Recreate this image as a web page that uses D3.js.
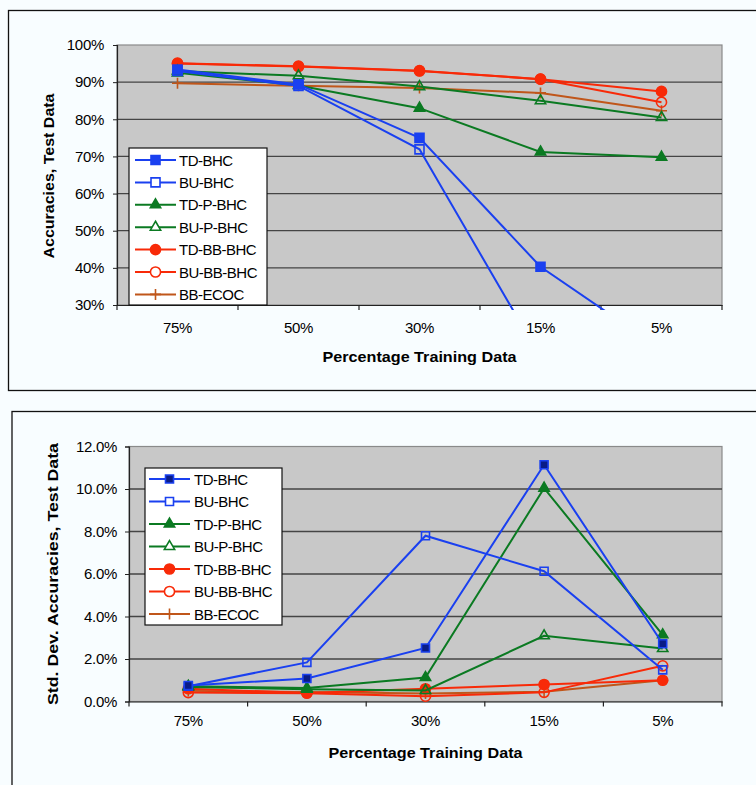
<!DOCTYPE html>
<html>
<head>
<meta charset="utf-8">
<script src="https://cdn.jsdelivr.net/npm/d3@7"></script>
<style>
  html, body { margin: 0; padding: 0; background: #f8fdff; }
  svg { display: block; }
  text { font-family: "Liberation Sans", Arial, sans-serif; fill: #000; }
</style>
</head>
<body>
<svg id="chart" width="756" height="785"></svg>
<script>
// ---------- DATA ----------
const categories = ["75%", "50%", "30%", "15%", "5%"];
const seriesNames = ["TD-BHC", "BU-BHC", "TD-P-BHC", "BU-P-BHC", "TD-BB-BHC", "BU-BB-BHC", "BB-ECOC"];

// Accuracies on test data (%)
const accTD_BHC   = [93.4, 89.4, 75.0, 40.3, 18.0];
const accBU_BHC   = [93.0, 89.0, 71.9, 15.9, 10.0];
const accTD_P_BHC = [92.5, 89.1, 83.0, 71.2, 69.8];
const accBU_P_BHC = [93.0, 91.7, 88.8, 85.0, 80.5];
const accTD_BB_BHC = [95.1, 94.3, 93.1, 90.8, 87.5];
const accBU_BB_BHC = [95.0, 94.2, 93.0, 90.8, 84.6];
const accBB_ECOC  = [89.7, 89.0, 88.4, 87.1, 82.3];

// Std. dev. of accuracies on test data (%)
const sdTD_BHC    = [0.75, 1.08, 2.52, 11.14, 2.72];
const sdBU_BHC    = [0.72, 1.84, 7.80, 6.13, 1.49];
const sdTD_P_BHC  = [0.72, 0.63, 1.13, 10.04, 3.14];
const sdBU_P_BHC  = [0.68, 0.58, 0.52, 3.09, 2.49];
const sdTD_BB_BHC = [0.60, 0.40, 0.60, 0.80, 1.00];
const sdBU_BB_BHC = [0.42, 0.39, 0.25, 0.43, 1.68];
const sdBB_ECOC   = [0.50, 0.45, 0.38, 0.46, 1.00];

const accTicks = [30, 40, 50, 60, 70, 80, 90, 100];
const sdTicks = [0, 2, 4, 6, 8, 10, 12];

const accSeries = [accTD_BHC, accBU_BHC, accTD_P_BHC, accBU_P_BHC, accTD_BB_BHC, accBU_BB_BHC, accBB_ECOC];
const sdSeries = [sdTD_BHC, sdBU_BHC, sdTD_P_BHC, sdBU_P_BHC, sdTD_BB_BHC, sdBU_BB_BHC, sdBB_ECOC];

// ---------- STYLES ----------
const BLUE = "#1a40f0", GREEN = "#0b7a22", RED = "#f82a08", BROWN = "#c0561a";
const styles = [
  { color: BLUE,  shape: "square",   filled: true },
  { color: BLUE,  shape: "square",   filled: false },
  { color: GREEN, shape: "triangle", filled: true },
  { color: GREEN, shape: "triangle", filled: false },
  { color: RED,   shape: "circle",   filled: true },
  { color: RED,   shape: "circle",   filled: false },
  { color: BROWN, shape: "plus",     filled: false }
];

const svg = d3.select("#chart");

function markerPath(shape, sqArea) {
  if (shape === "square") return d3.symbol(d3.symbolSquare, sqArea)();
  if (shape === "triangle") return d3.symbol(d3.symbolTriangle, 46)();
  if (shape === "circle") return d3.symbol(d3.symbolCircle, 80)();
  return "M-5.5,0H5.5M0,-5.5V5.5";
}

function drawMarker(g, st, x, y, opts) {
  const p = g.append("path")
    .attr("d", markerPath(st.shape, opts.sq))
    .attr("transform", `translate(${x},${y})`)
    .attr("stroke", st.color)
    .attr("stroke-width", 1.6);
  if (st.shape === "plus") p.attr("fill", "none");
  else if (st.filled) p.attr("fill", (st.shape === "square" && opts.navy) ? "#0a1c86" : st.color);
  else p.attr("fill", opts.legend ? "#fff" : "none");
}

function drawChart(cfg) {
  // outer frame
  svg.append("rect")
    .attr("x", cfg.frame[0]).attr("y", cfg.frame[1])
    .attr("width", cfg.frame[2]).attr("height", cfg.frame[3])
    .attr("fill", "none").attr("stroke", "#111").attr("stroke-width", 1.3);

  const { x0, x1, y0, y1 } = cfg;
  const x = d3.scaleBand().domain(categories).range([x0, x1]).padding(0);
  const y = d3.scaleLinear().domain(cfg.domain).range([y1, y0]);
  const cx = c => x(c) + x.bandwidth() / 2;

  const g = svg.append("g");
  // plot background
  g.append("rect").attr("x", x0).attr("y", y0).attr("width", x1 - x0).attr("height", y1 - y0)
    .attr("fill", "#c8c8c8").attr("stroke", "#8a8a8a").attr("stroke-width", 1.2);

  // gridlines
  g.selectAll(".grid").data(cfg.ticks.filter(t => t !== cfg.domain[0] && t !== cfg.domain[1]))
    .enter().append("line")
    .attr("x1", x0).attr("x2", x1)
    .attr("y1", d => y(d)).attr("y2", d => y(d))
    .attr("stroke", "#454545").attr("stroke-width", 1.3);

  // y axis
  const yAxis = d3.axisLeft(y).tickValues(cfg.ticks).tickFormat(cfg.fmt).tickSize(4).tickPadding(cfg.tickPad);
  const ya = g.append("g").attr("transform", `translate(${x0},0)`).call(yAxis);
  ya.select(".domain").attr("stroke", "#222").attr("stroke-width", 1.2);
  ya.selectAll(".tick line").attr("stroke", "#222");
  ya.selectAll(".tick text").attr("font-size", 15).attr("font-family", '"Liberation Sans", Arial, sans-serif')
    .attr("letter-spacing", "-0.3px").attr("fill", "#000");

  // x axis: labels at centers, ticks at band boundaries
  const xAxis = d3.axisBottom(x).tickSize(0).tickPadding(cfg.xLabelPad);
  const xa = g.append("g").attr("transform", `translate(0,${y1})`).call(xAxis);
  xa.select(".domain").attr("stroke", "#222").attr("stroke-width", 1.2);
  xa.selectAll(".tick text").attr("font-size", 15).attr("font-family", '"Liberation Sans", Arial, sans-serif')
    .attr("letter-spacing", "-0.3px").attr("fill", "#000");
  const bounds = categories.map(c => x(c)).concat([x1]);
  g.selectAll(".xt").data(bounds).enter().append("line")
    .attr("x1", d => d).attr("x2", d => d).attr("y1", y1).attr("y2", y1 + 5)
    .attr("stroke", "#222").attr("stroke-width", 1.2);

  // titles
  svg.append("text").attr("x", (x0 + x1) / 2).attr("y", cfg.xTitleY)
    .attr("text-anchor", "middle").attr("dominant-baseline", "central")
    .attr("font-size", 15).attr("font-weight", "bold")
    .attr("textLength", 194).attr("lengthAdjust", "spacingAndGlyphs")
    .text("Percentage Training Data");
  svg.append("text").attr("transform", `translate(${cfg.yTitle[0]},${cfg.yTitle[1]}) rotate(-90)`)
    .attr("text-anchor", "middle").attr("dominant-baseline", "central")
    .attr("font-size", 15).attr("font-weight", "bold")
    .attr("textLength", cfg.yTitleLen).attr("lengthAdjust", "spacingAndGlyphs")
    .text(cfg.yTitleText);

  // clip
  const clipId = "clip" + cfg.id;
  svg.append("clipPath").attr("id", clipId).append("rect")
    .attr("x", x0 - 10).attr("y", y0 - 10).attr("width", x1 - x0 + 20).attr("height", y1 - y0 + 15);
  const pg = svg.append("g").attr("clip-path", `url(#${clipId})`);

  const line = d3.line().x((d, i) => cx(categories[i])).y(d => y(d));
  // draw in reverse order so TD-BHC ends on top
  for (let s = cfg.series.length - 1; s >= 0; s--) {
    const vals = cfg.series[s], st = styles[s];
    pg.append("path").datum(vals).attr("d", line)
      .attr("fill", "none").attr("stroke", st.color).attr("stroke-width", 2);
    vals.forEach((v, i) => {
      if (v >= cfg.domain[0] && v <= cfg.domain[1])
        drawMarker(pg, st, cx(categories[i]), y(v), { sq: cfg.sq, navy: cfg.navy });
    });
  }

  // legend
  const L = cfg.legend;
  svg.append("rect").attr("x", L.x).attr("y", L.y).attr("width", L.w).attr("height", L.h)
    .attr("fill", "#fff").attr("stroke", "#111").attr("stroke-width", 1.2);
  seriesNames.forEach((name, i) => {
    const yy = L.firstY + i * L.step;
    const st = styles[i];
    svg.append("line").attr("x1", L.lineX0).attr("x2", L.lineX1).attr("y1", yy).attr("y2", yy)
      .attr("stroke", st.color).attr("stroke-width", 2);
    drawMarker(svg, st, (L.lineX0 + L.lineX1) / 2, yy, { sq: cfg.sq, navy: cfg.navy, legend: true });
    svg.append("text").attr("x", L.textX).attr("y", yy).attr("dominant-baseline", "central")
      .attr("font-size", 15).attr("letter-spacing", "-0.5px").text(name);
  });
}

drawChart({
  id: "top",
  frame: [8.5, 10.5, 800, 380],
  x0: 117, x1: 722, y0: 45, y1: 305,
  domain: [30, 100], ticks: accTicks, fmt: d => d + "%", tickPad: 9,
  xLabelPad: 17, xTitleY: 356,
  yTitle: [48, 176], yTitleLen: 165, yTitleText: "Accuracies, Test Data",
  series: accSeries, sq: 81, navy: false,
  legend: { x: 129, y: 148, w: 138, h: 157, firstY: 160, step: 22.4, lineX0: 135, lineX1: 176, textX: 179 }
});

drawChart({
  id: "bot",
  frame: [12, 411.5, 800, 420],
  x0: 129, x1: 722, y0: 446.5, y1: 701.5,
  domain: [0, 12], ticks: sdTicks, fmt: d => d3.format(".1f")(d) + "%", tickPad: 8,
  xLabelPad: 14, xTitleY: 752,
  yTitle: [52, 574], yTitleLen: 262, yTitleText: "Std. Dev. Accuracies, Test Data",
  series: sdSeries, sq: 64, navy: true,
  legend: { x: 145, y: 468, w: 137, h: 157, firstY: 479, step: 22.5, lineX0: 149, lineX1: 190, textX: 194 }
});
</script>
</body>
</html>
